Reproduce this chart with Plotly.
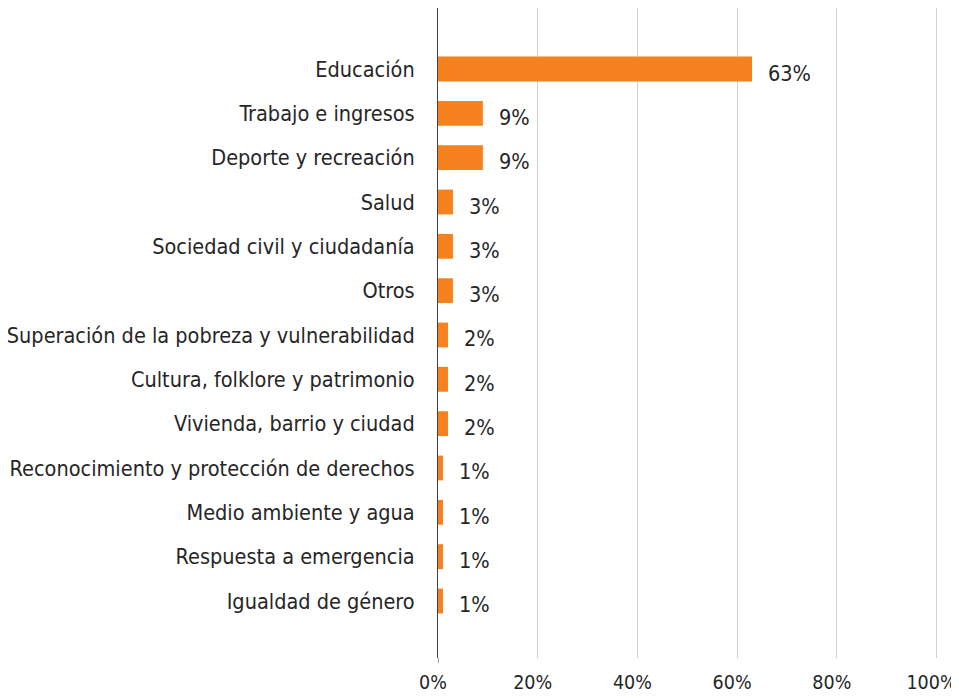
import plotly.graph_objects as go

categories = [
    "Educación",
    "Trabajo e ingresos",
    "Deporte y recreación",
    "Salud",
    "Sociedad civil y ciudadanía",
    "Otros",
    "Superación de la pobreza y vulnerabilidad",
    "Cultura, folklore y patrimonio",
    "Vivienda, barrio y ciudad",
    "Reconocimiento y protección de derechos",
    "Medio ambiente y agua",
    "Respuesta a emergencia",
    "Igualdad de género",
]
values = [63, 9, 9, 3, 3, 3, 2, 2, 2, 1, 1, 1, 1]
x_ticks = [0, 20, 40, 60, 80, 100]
x_tick_labels = ["0%", "20%", "40%", "60%", "80%", "100%"]

FONT = "Liberation Sans Narrow, DejaVu Sans Condensed, sans-serif"
TXT = "#262626"
ORANGE = "#F5821F"
FS = 21.5

fig = go.Figure(
    go.Bar(
        x=values,
        y=categories,
        orientation="h",
        marker=dict(color=ORANGE, line=dict(width=0)),
        hoverinfo="skip",
    )
)

for c, v in zip(categories, values):
    fig.add_annotation(
        x=v, y=c, text=f"{v}%", showarrow=False,
        xanchor="left", yanchor="middle", xshift=14, yshift=-4,
        font=dict(family=FONT, size=FS, color=TXT),
    )

# category axis line extends slightly below the plot
fig.add_shape(
    type="line", xref="x", yref="paper",
    x0=0, x1=0, y0=-5 / 650, y1=0,
    line=dict(color="#404040", width=1),
)

fig.update_layout(
    width=951,
    height=690,
    margin=dict(l=430, r=20, t=0, b=40, autoexpand=False),
    paper_bgcolor="white",
    plot_bgcolor="white",
    bargap=0.44,
    showlegend=False,
    font=dict(family=FONT, size=FS, color=TXT),
    xaxis=dict(
        range=[0, 100.5],
        tickvals=x_ticks,
        ticktext=x_tick_labels,
        showgrid=True,
        gridcolor="#d0d0d0",
        gridwidth=1.2,
        zeroline=False,
        showline=False,
        ticks="",
        ticklabelstandoff=10,
        ticklabelshift=-5,
        ticklabeloverflow="allow",
        automargin=False,
        tickfont=dict(family=FONT, size=19.5, color=TXT),
        fixedrange=True,
    ),
    yaxis=dict(
        type="category",
        categoryorder="array",
        categoryarray=categories,
        range=[13.286, -1.376],
        showgrid=False,
        zeroline=False,
        showline=True,
        linecolor="#404040",
        linewidth=1,
        ticks="",
        ticklabelstandoff=18,
        automargin=False,
        tickfont=dict(family=FONT, size=FS, color=TXT),
        fixedrange=True,
    ),
)

fig.write_html("out.html")
